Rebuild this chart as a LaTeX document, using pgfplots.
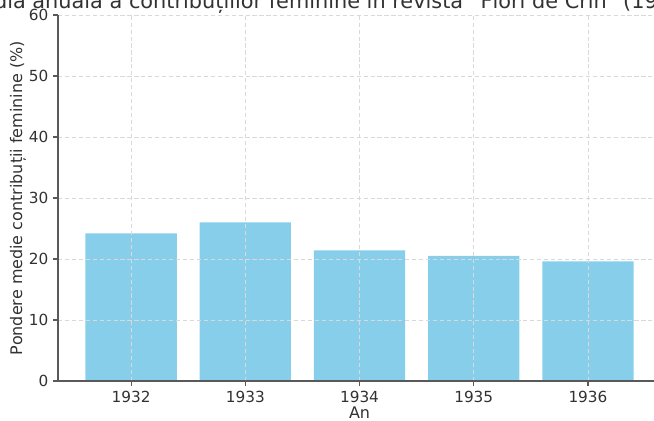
\documentclass[border=0pt]{standalone}
\usepackage{pgfplots}
\pgfplotsset{compat=1.18}
\usepackage{fontspec}
\setmainfont{DejaVu Sans}
\definecolor{barblue}{RGB}{135,206,235}
\definecolor{txt}{RGB}{50,50,50}
\begin{document}
\begin{tikzpicture}
\begin{axis}[
  name=ax,
  scale only axis,
  width=434.2pt, height=263.5pt,
  xmin=1931.36, xmax=1936.64,
  ymin=0, ymax=60,
  xtick={1932,1933,1934,1935,1936},
  xticklabels={1932,1933,1934,1935,1936},
  ytick={0,10,20,30,40,50,60},
  axis x line*=bottom, axis y line*=left,
  axis line style={black!65, line width=0.9pt, -},
  tick style={black!65, line width=0.8pt},
  tick align=outside,
  major tick length=3.5pt,
  grid=major,
  major grid style={densely dashed, black!15, line width=0.5pt},
  axis on top,
  /pgf/number format/assume math mode=true,
  tick label style={font=\fontsize{11}{13}\selectfont, text=txt},
  title={Media anuală a contribuțiilor feminine în revista \symbol{34}Flori de Crin\symbol{34} (1932–1936)},
  title style={font=\fontsize{15}{18}\selectfont, text=txt, at={(axis description cs:0.5,1)}, anchor=base, yshift=-1.5pt},
  xlabel={An},
  xlabel style={font=\fontsize{11.5}{13}\selectfont, text=txt, at={(axis description cs:0.5,-0.0874)}, anchor=center},
  ylabel={Pondere medie contribuții feminine (\%)},
  ylabel style={font=\fontsize{11.5}{13}\selectfont, text=txt, at={(axis description cs:-0.0663,0.5)}, anchor=center},
]
\addplot[ybar, bar width=0.8, fill=barblue, draw=none] coordinates {
  (1932,24.2) (1933,26.0) (1934,21.4) (1935,20.5) (1936,19.6)
};
\end{axis}
\pgfresetboundingbox
\path[use as bounding box] ([xshift=-41.76pt,yshift=-28.08pt]ax.south west) rectangle ++(470.88pt,302.4pt);
\end{tikzpicture}
\end{document}
